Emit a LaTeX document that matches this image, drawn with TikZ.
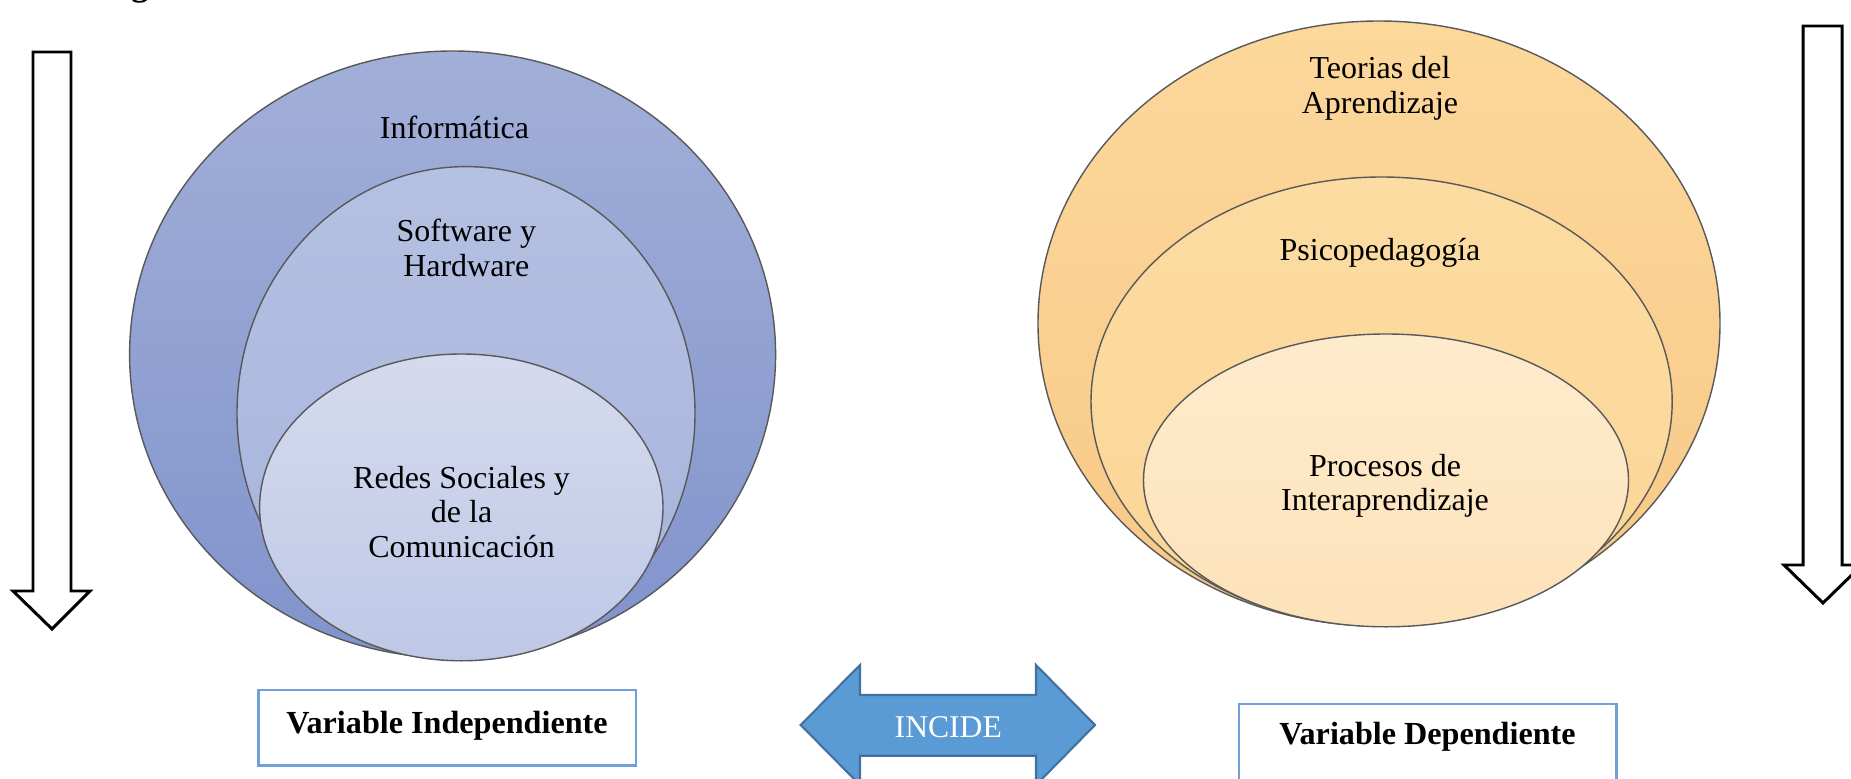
\documentclass[tikz,border=0pt]{standalone}
\usepackage{fontspec}
\setmainfont{Liberation Serif}
\definecolor{bOutT}{RGB}{162,175,216}
\definecolor{bOutB}{RGB}{128,147,204}
\definecolor{bMidT}{RGB}{181,193,226}
\definecolor{bMidB}{RGB}{166,179,219}
\definecolor{bInT}{RGB}{213,218,238}
\definecolor{bInB}{RGB}{190,200,230}
\definecolor{oOutT}{RGB}{252,216,155}
\definecolor{oOutB}{RGB}{248,200,135}
\definecolor{oMidT}{RGB}{252,220,162}
\definecolor{oMidB}{RGB}{251,213,150}
\definecolor{oInT}{RGB}{254,235,205}
\definecolor{oInB}{RGB}{253,226,185}
\definecolor{boxblue}{RGB}{111,160,216}
\definecolor{incfill}{RGB}{91,155,213}
\definecolor{incdraw}{RGB}{65,113,156}
\tikzset{
  ring/.style={draw=black!65, line width=0.4pt},
  lbl/.style={align=center, font=\fontsize{9.1}{9.8}\selectfont, text=black, inner sep=0pt},
  varbox/.style={draw=boxblue, line width=0.8pt, fill=white},
  varlbl/.style={font=\fontsize{9.15}{11}\selectfont\bfseries, inner sep=0pt},
  downarrow/.style={draw=black, line width=0.85pt, fill=white, line join=miter},
  incarrow/.style={fill=incfill, draw=incdraw, line width=0.6pt, line join=miter},
}
\begin{document}
\begin{tikzpicture}[x=0.1mm, y=-0.1mm]
\useasboundingbox (0,0) rectangle (1851,779);
\clip (0,0) rectangle (1851,779);
\fill[white] (0,0) rectangle (1851,779);

% fragment of caption letter
\node[font=\fontsize{10}{12}\selectfont\bfseries, anchor=base, inner sep=0pt] (capg) at (140,-4) {g};

% left vertical arrow
\draw[downarrow] (33,52) -- (71,52) -- (71,591) -- (90,591) -- (52,629) -- (13,591) -- (33,591) -- cycle;
% right vertical arrow
\draw[downarrow] (1803,26) -- (1842,26) -- (1842,565) -- (1862,565) -- (1823,603) -- (1784,565) -- (1803,565) -- cycle;

% left nested ellipses
\shade[ring, top color=bOutT, bottom color=bOutB] (452.6,354.5) ellipse [x radius=32.3mm, y radius=30.35mm];
\shade[ring, top color=bMidT, bottom color=bMidB] (466,413.3) ellipse [x radius=22.9mm, y radius=24.67mm];
\shade[ring, top color=bInT, bottom color=bInB] (461.3,507.4) ellipse [x radius=20.17mm, y radius=15.34mm];

\node[lbl] (info) at (454.5,127.5) {Informática};
\node[lbl] (soft) at (466.3,247.9) {Software y\\Hardware};
\node[lbl] (redes) at (461.6,512) {Redes Sociales y\\de la\\Comunicación};

% right nested ellipses
\shade[ring, top color=oOutT, bottom color=oOutB] (1379,323.5) ellipse [x radius=34.1mm, y radius=30.25mm];
\shade[ring, top color=oMidT, bottom color=oMidB] (1381.6,401.5) ellipse [x radius=29.06mm, y radius=22.45mm];
\shade[ring, top color=oInT, bottom color=oInB] (1386,480.4) ellipse [x radius=24.25mm, y radius=14.64mm];

\node[lbl] (teor) at (1380,88.5) {Teorias del\\Aprendizaje};
\node[lbl] (psico) at (1380,252.5) {Psicopedagogía};
\node[lbl] (proc) at (1385,486) {Procesos de\\Interaprendizaje};

% variable boxes
\draw[varbox] (258.3,690) rectangle (636,765.7);
\node[varlbl] (vi) at (447,726) {Variable Independiente};
\draw[varbox] (1239,704) rectangle (1616.7,783);
\node[varlbl] (vd) at (1427.5,737) {Variable Dependiente};

% INCIDE double arrow
\draw[incarrow] (800.7,725) -- (860,665) -- (860,695) -- (1036,695) -- (1036,665) -- (1095,725) -- (1036,785) -- (1036,755.7) -- (860,755.7) -- (860,785) -- cycle;
\node[font=\fontsize{9}{11}\selectfont, text=white, inner sep=0pt] (inc) at (948.3,727) {INCIDE};
\end{tikzpicture}
\end{document}
